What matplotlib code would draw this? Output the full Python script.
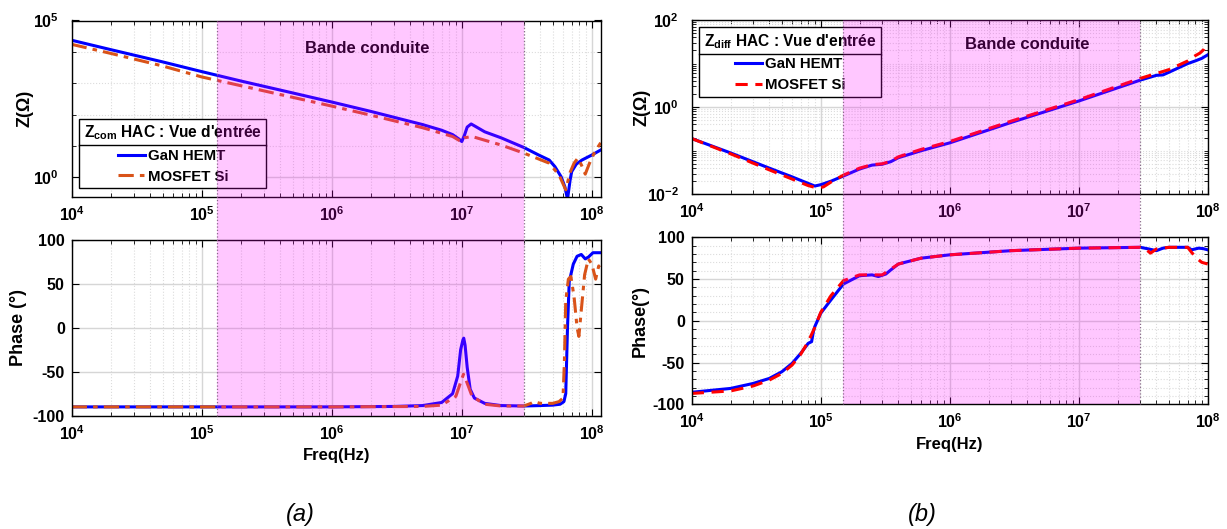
import matplotlib
matplotlib.use("Agg")
import matplotlib.pyplot as plt
import numpy as np
import matplotlib.transforms as mtransforms
from matplotlib.patches import Rectangle
from matplotlib.lines import Line2D
from matplotlib.ticker import FixedLocator, LogLocator, MultipleLocator, NullFormatter

plt.rcParams['font.family'] = ['Liberation Sans', 'DejaVu Sans']
plt.rcParams['font.weight'] = 'bold'
plt.rcParams['axes.labelweight'] = 'bold'
plt.rcParams['mathtext.default'] = 'regular'
plt.rcParams['axes.unicode_minus'] = False
plt.rcParams['font.size'] = 12

# ---- (a) common-mode impedance, log10(|Z|) in decades ----
com_f_gan = [1e4, 2e4, 5e4, 1e5, 2e5, 5e5, 1e6, 2e6, 5e6, 7e6, 8.5e6, 9.5e6, 1.0e7,
             1.05e7, 1.1e7, 1.18e7, 1.3e7, 1.5e7, 2e7, 3e7, 3.9e7, 4.7e7, 5.2e7, 5.8e7,
             6.2e7, 6.5e7, 6.8e7, 7.0e7, 7.6e7, 8.4e7, 1e8, 1.17e8]
com_z_gan = [4.37, 4.07, 3.68, 3.37, 3.07, 2.69, 2.40, 2.10, 1.68, 1.50, 1.36, 1.22, 1.14,
             1.35, 1.60, 1.70, 1.60, 1.45, 1.26, 0.95, 0.71, 0.55, 0.34, 0.02,
             -0.30, -0.70, -0.10, 0.18, 0.42, 0.55, 0.71, 0.87]
com_f_mos = [1e4, 2e4, 5e4, 1e5, 2e5, 5e5, 1e6, 2e6, 5e6, 8.5e6, 9.6e6, 1.0e7, 1.05e7,
             1.2e7, 2e7, 3e7, 4.7e7, 5.6e7, 6.3e7, 6.8e7, 7.3e7, 7.8e7, 8.3e7, 8.9e7,
             9.6e7, 1.05e8, 1.17e8]
com_z_mos = [4.24, 3.95, 3.55, 3.20, 2.92, 2.55, 2.27, 1.98, 1.58, 1.30, 1.17, 1.15, 1.26,
             1.30, 1.03, 0.77, 0.45, 0.07, -0.40, 0.15, 0.45, 0.61, 0.40, 0.10,
             0.45, 0.80, 1.10]

com_ph_f_gan = [1e4, 1e6, 3e6, 5e6, 7e6, 8.5e6, 9.3e6, 9.8e6, 1.02e7, 1.035e7, 1.06e7,
                1.1e7, 1.16e7, 1.25e7, 1.5e7, 2e7, 3e7, 4e7, 5e7, 5.7e7, 6.1e7, 6.3e7,
                6.5e7, 6.7e7, 7.2e7, 7.7e7, 8.3e7, 8.9e7, 9.4e7, 1.02e8, 1.17e8]
com_ph_gan = [-90, -90, -89.5, -88.5, -85, -75, -55, -25, -14, -12, -20,
              -45, -70, -80, -86, -88.5, -89, -88.5, -88, -87, -84, -75,
              0, 52, 72, 81, 83, 78, 80, 85, 85]
com_ph_f_mos = [1e4, 1e6, 5e6, 7e6, 9e6, 9.8e6, 1.03e7, 1.08e7, 1.2e7, 1.5e7, 2e7, 3e7,
                3.4e7, 3.6e7, 4e7, 5e7, 5.6e7, 6.0e7, 6.15e7, 6.3e7, 6.6e7, 6.9e7, 7.3e7,
                7.7e7, 7.95e7, 8.3e7, 8.8e7, 9.4e7, 1.0e8, 1.07e8, 1.13e8, 1.17e8]
com_ph_mos = [-90, -90, -89.5, -88, -78, -62, -53, -60, -78, -87, -89, -89,
              -86, -84, -86, -86, -84, -80, -40, 30, 55, 58, 35,
              0, -10, 20, 60, 78, 72, 55, 70, 65]

# ---- (b) differential-mode impedance ----
diff_f_gan = [1e4, 2e4, 4e4, 6e4, 8e4, 9e4, 1e5, 1.2e5, 1.5e5, 2e5, 2.5e5, 3e5, 3.5e5,
              4e5, 6e5, 1e6, 3e6, 1e7, 3e7, 4e7, 4.5e7, 5e7, 7e7, 8e7, 9e7, 1e8]
diff_z_gan = [-0.72, -1.05, -1.40, -1.60, -1.75, -1.81, -1.78, -1.70, -1.58, -1.42, -1.33,
              -1.31, -1.25, -1.16, -1.00, -0.82, -0.35, 0.14, 0.62, 0.73, 0.74, 0.80,
              1.00, 1.06, 1.12, 1.20]
diff_f_mos = [1e4, 2e4, 4e4, 6e4, 8e4, 9.5e4, 1.05e5, 1.2e5, 1.5e5, 2e5, 2.5e5, 3e5,
              3.5e5, 4e5, 6e5, 1e6, 3e6, 1e7, 3e7, 5e7, 7e7, 8e7, 8.7e7, 9.3e7, 9.8e7]
diff_z_mos = [-0.72, -1.07, -1.44, -1.65, -1.80, -1.86, -1.83, -1.72, -1.56, -1.40, -1.32,
              -1.30, -1.24, -1.14, -0.97, -0.79, -0.32, 0.17, 0.66, 0.86, 1.06, 1.18,
              1.24, 1.32, 1.45]

diff_ph_f_gan = [1e4, 2e4, 3e4, 4e4, 5e4, 6e4, 7e4, 8e4, 8.5e4, 8.8e4, 9e4, 1e5, 1.2e5,
                 1.5e5, 2e5, 2.5e5, 2.8e5, 3.2e5, 3.5e5, 4e5, 6e5, 1e6, 3e6, 1e7, 3e7,
                 3.5e7, 4e7, 4.5e7, 5e7, 7e7, 7.5e7, 8.5e7, 9.2e7, 1e8]
diff_ph_gan = [-85.6, -81, -75, -69, -61, -51, -39, -27, -25, -12, -7, 9, 25,
               44, 54, 55, 53, 56, 61, 68, 75, 79, 84, 87, 88,
               86, 84, 87, 88, 88, 85, 87, 86.5, 85]
diff_ph_f_mos = [1e4, 2e4, 3e4, 4e4, 5e4, 6e4, 7e4, 8e4, 9e4, 1e5, 1.2e5, 1.5e5, 2e5,
                 2.5e5, 3e5, 3.5e5, 4e5, 6e5, 1e6, 3e6, 1e7, 3e7, 3.3e7, 3.6e7, 4e7,
                 5e7, 7e7, 7.5e7, 8.2e7, 9e7, 1e8]
diff_ph_mos = [-87, -84, -78, -71, -63, -53, -40, -25, -8, 10, 30, 48, 55,
               55, 55, 62, 68, 75, 79, 84, 87, 88, 86, 81, 86,
               88, 88, 82, 75, 70, 68]

band_a = (1.3e5, 3e7)
band_b = (1.5e5, 3e7)

BLUE = '#0000FF'
ORANGE = '#D95319'
RED = '#FF0000'
MAJ_GRID = '#d6d6d6'
MIN_GRID = '#dcdcdc'
DASHDOT = (0, (5, 2, 1.5, 2))
DASHED = (0, (4, 2.5))

fig = plt.figure(figsize=(12.27, 5.29), dpi=100)
W, H = 1227, 529

def px_axes(x0, x1, y0, y1):
    return fig.add_axes([x0 / W, 1 - y1 / H, (x1 - x0) / W, (y1 - y0) / H])

ax_a1 = px_axes(71.7, 600.7, 20.5, 196.7)
ax_a2 = px_axes(71.7, 600.7, 239.5, 415.7)
ax_b1 = px_axes(691.7, 1207.7, 20, 194.3)
ax_b2 = px_axes(691.7, 1207.7, 237.3, 404.3)

def style(ax):
    ax.set_xscale('log')
    ax.tick_params(which='both', direction='in', top=True, right=True, labelsize=11.5)
    ax.tick_params(axis='x', which='major', pad=6)
    ax.tick_params(axis='y', which='major', pad=5)
    ax.tick_params(which='major', length=5)
    ax.tick_params(which='minor', length=3)
    ax.xaxis.set_major_locator(FixedLocator([1e4, 1e5, 1e6, 1e7, 1e8]))
    ax.xaxis.set_minor_locator(LogLocator(base=10, subs=np.arange(2, 10), numticks=20))
    ax.xaxis.set_minor_formatter(NullFormatter())
    ax.grid(which='major', color=MAJ_GRID, lw=1, ls='-')
    ax.grid(which='minor', color=MIN_GRID, lw=0.8, ls=':')
    ax.set_axisbelow(True)
    for s in ax.spines.values():
        s.set_linewidth(1)

def legend(ax, handles, title, anchor):
    leg = ax.legend(handles=handles, title=title, loc='upper left', bbox_to_anchor=anchor,
                    borderaxespad=0, fancybox=False, edgecolor='black', framealpha=1,
                    fontsize=10.8, title_fontsize=11.2, handlelength=1.8,
                    handletextpad=0.2, labelspacing=0.45, borderpad=0.3)
    leg.get_frame().set_linewidth(1)
    return leg

# (a) top
ax = ax_a1
style(ax)
l1, = ax.plot(com_f_gan, 10 ** np.array(com_z_gan), color=BLUE, lw=2.2, label='GaN HEMT')
l2, = ax.plot(com_f_mos, 10 ** np.array(com_z_mos), color=ORANGE, lw=2.2, ls=DASHDOT,
              label='MOSFET Si')
ax.set_yscale('log')
ax.set_xlim(1e4, 1.17e8)
ax.set_ylim(0.24, 1e5)
ax.yaxis.set_major_locator(FixedLocator([1e0, 1e5]))
ax.yaxis.set_minor_locator(FixedLocator([1e1, 1e2, 1e3, 1e4]))
ax.yaxis.set_minor_formatter(NullFormatter())
ax.tick_params(axis='y', which='major', pad=9)
ax.set_ylabel('Z(\u03a9)', fontsize=13, va='center')
ax.yaxis.set_label_coords(-0.088, 0.5)
ax.text(1.87e6, 1.26e4, 'Bande conduite', ha='center', va='center', fontsize=12)
leg_a = legend(ax, [l1, l2], "Z$_{com}$ HAC : Vue d'entrée", (0.0145, 0.442))

# (a) bottom
ax = ax_a2
style(ax)
ax.plot(com_ph_f_gan, com_ph_gan, color=BLUE, lw=2.2)
ax.plot(com_ph_f_mos, com_ph_mos, color=ORANGE, lw=2.2, ls=DASHDOT)
ax.set_xlim(1e4, 1.17e8)
ax.set_ylim(-100, 100)
ax.yaxis.set_major_locator(MultipleLocator(50))
ax.set_ylabel('Phase (°)', fontsize=13, va='center')
ax.yaxis.set_label_coords(-0.1015, 0.5)
ax.set_xlabel('Freq(Hz)', fontsize=12)

# (b) top
ax = ax_b1
style(ax)
m1, = ax.plot(diff_f_gan, 10 ** np.array(diff_z_gan), color=BLUE, lw=2.2, label='GaN HEMT')
m2, = ax.plot(diff_f_mos, 10 ** np.array(diff_z_mos), color=RED, lw=2.2, ls=DASHED,
              label='MOSFET Si')
ax.set_yscale('log')
ax.set_xlim(1e4, 1e8)
ax.set_ylim(1e-2, 1e2)
ax.yaxis.set_major_locator(FixedLocator([1e-2, 1e0, 1e2]))
ax.yaxis.set_minor_locator(LogLocator(base=10, subs=np.arange(1, 10), numticks=20))
ax.yaxis.set_minor_formatter(NullFormatter())
ax.tick_params(axis='y', which='major', pad=9)
ax.set_ylabel('Z(\u03a9)', fontsize=13, va='center')
ax.yaxis.set_label_coords(-0.096, 0.5)
ax.text(4.0e6, 27, 'Bande conduite', ha='center', va='center', fontsize=12)
leg_b = legend(ax, [m1, m2], "Z$_{diff}$ HAC : Vue d'entrée", (0.015, 0.958))

# (b) bottom
ax = ax_b2
style(ax)
ax.plot(diff_ph_f_gan, diff_ph_gan, color=BLUE, lw=2.2)
ax.plot(diff_ph_f_mos, diff_ph_mos, color=RED, lw=2.2, ls=DASHED)
ax.set_xlim(1e4, 1e8)
ax.set_ylim(-100, 100)
ax.yaxis.set_major_locator(MultipleLocator(50))
ax.yaxis.set_minor_locator(MultipleLocator(10))
ax.set_ylabel('Phase(°)', fontsize=13, va='center')
ax.yaxis.set_label_coords(-0.1, 0.5)
ax.set_xlabel('Freq(Hz)', fontsize=12)

# separator line under each legend title
fig.canvas.draw()
rend = fig.canvas.get_renderer()
for leg in (leg_a, leg_b):
    fb = leg.get_window_extent(rend)
    tb = leg.get_title().get_window_extent(rend)
    ysep = tb.y0 - 3
    fig.add_artist(Line2D([fb.x0 / W, fb.x1 / W], [ysep / H, ysep / H], color='black',
                          lw=1, transform=fig.transFigure, zorder=10))

# shaded conducted band spanning both axes of each panel (drawn on top)
for top, bot, band in ((ax_a1, ax_a2, band_a), (ax_b1, ax_b2, band_b)):
    y_top = top.get_position().y1
    y_bot = bot.get_position().y0
    tr = mtransforms.blended_transform_factory(top.transData, fig.transFigure)
    fig.add_artist(Rectangle((band[0], y_bot), band[1] - band[0], y_top - y_bot,
                             transform=tr, facecolor='#FF00FF', alpha=0.22, lw=0, zorder=20))
    for xb in band:
        fig.add_artist(Line2D([xb, xb], [y_bot, y_top], transform=tr, color='#8a6a8a',
                              lw=0.9, ls=':', zorder=21))

fig.text(300 / W, 1 - 515 / H, '(a)', fontsize=17, style='italic', weight='normal',
         ha='center', va='center')
fig.text(922 / W, 1 - 515 / H, '(b)', fontsize=17, style='italic', weight='normal',
         ha='center', va='center')

fig.savefig('out.png', dpi=100)
